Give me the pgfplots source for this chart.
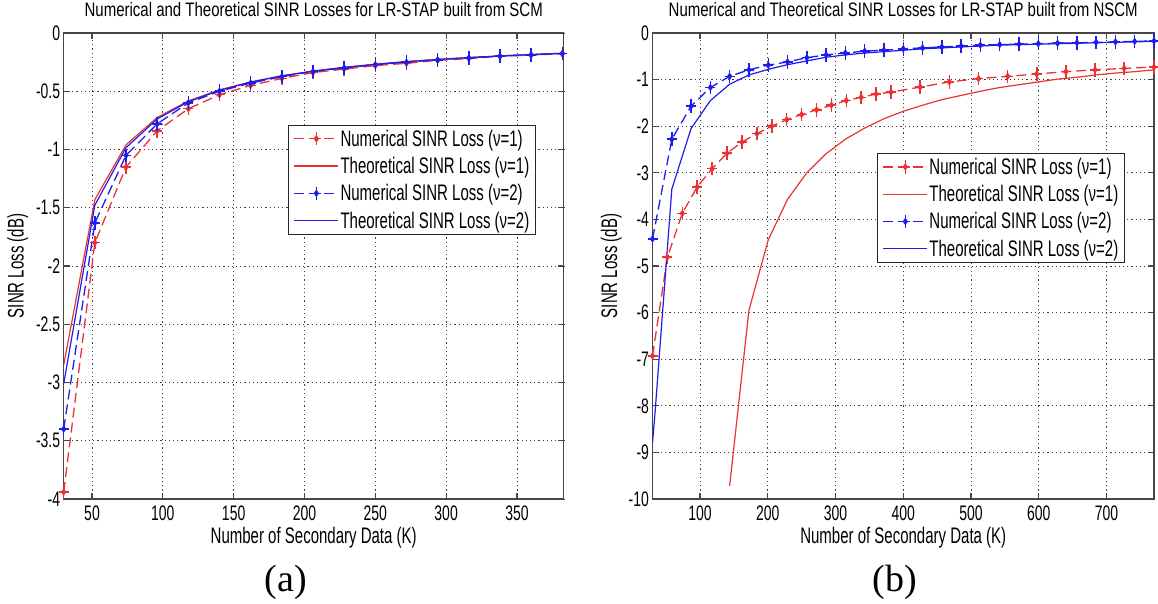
\documentclass[border=0pt]{standalone}
\usepackage{graphicx}
\usepackage{fontspec}
\setmainfont{Liberation Sans}
\newfontfamily\serif{Liberation Serif}
\usepackage{pgfplots}
\pgfplotsset{compat=1.18}
\definecolor{mred}{RGB}{235,50,50}
\definecolor{mblue}{RGB}{30,30,235}
\definecolor{axgray}{RGB}{70,70,70}
\newcommand{\st}[1]{\scalebox{1}[1.5]{#1}}
\newcommand{\stt}[1]{\scalebox{1}[1.3]{#1}}

\pgfdeclareplotmark{sp}{%
  \pgfpathmoveto{\pgfqpoint{0pt}{1.35\pgfplotmarksize}}%
  \pgfpathlineto{\pgfqpoint{0pt}{-1.35\pgfplotmarksize}}%
  \pgfpathmoveto{\pgfqpoint{-\pgfplotmarksize}{0pt}}%
  \pgfpathlineto{\pgfqpoint{\pgfplotmarksize}{0pt}}%
  \pgfusepathqstroke
  \pgfpathmoveto{\pgfqpoint{0pt}{0.5\pgfplotmarksize}}%
  \pgfpathlineto{\pgfqpoint{0.35\pgfplotmarksize}{0pt}}%
  \pgfpathlineto{\pgfqpoint{0pt}{-0.5\pgfplotmarksize}}%
  \pgfpathlineto{\pgfqpoint{-0.35\pgfplotmarksize}{0pt}}%
  \pgfpathclose
  \pgfusepathqfillstroke
}

\pgfplotsset{
  mstyle/.style={
    scale only axis,
    height=466pt,
    axis line style={axgray, line width=1.4pt},
    tick style={axgray, line width=1.2pt},
    major tick length=6pt,
    tick align=inside,
    tick pos=both,
    grid=major,
    major grid style={black!75, line width=0.8pt, dash pattern=on 1.2pt off 3pt},
    font=\fontsize{14}{16}\selectfont,
    xticklabel style={anchor=center, yshift=-14pt},
    title style={at={(axis description cs:0.5,1)}, anchor=center, yshift=17pt, font=\fontsize{15}{17}\selectfont},
    xlabel style={at={(axis description cs:0.5,0)}, anchor=center, yshift=-39pt, font=\fontsize{15}{17}\selectfont},
    ylabel style={font=\fontsize{15}{17}\selectfont},
    legend cell align=left,
    legend style={draw=black!85, line width=1pt, fill=white, inner xsep=5pt, inner ysep=3pt,
      row sep=6.5pt, nodes={inner sep=1.5pt}, font=\fontsize{15}{17}\selectfont},
    legend image code/.code={\draw[mark repeat=2,mark phase=2,##1] plot coordinates {(0pt,0pt) (22pt,0pt) (44pt,0pt)};},
    numl/.style={dash pattern=on 10pt off 5pt, line width=1.3pt, mark=sp, mark size=5pt,
      mark options={solid, line width=1.5pt}},
    theol/.style={solid, line width=1.2pt},
  }
}

\begin{document}
\begin{tikzpicture}
\path[use as bounding box] (0,0) rectangle (1158pt,604pt);

% ---------------- (a) ----------------
\begin{axis}[mstyle,
  at={(63.7pt,105pt)}, anchor=south west,
  width=500pt,
  xmin=30, xmax=383, ymin=-4, ymax=0,
  xtick={50,100,...,350},
  xticklabels={\st{50},\st{100},\st{150},\st{200},\st{250},\st{300},\st{350}},
  ytick={-4,-3.5,...,0},
  yticklabels={\st{-4},\st{-3.5},\st{-3},\st{-2.5},\st{-2},\st{-1.5},\st{-1},\st{-0.5},\st{0}},
  title={\stt{Numerical and Theoretical SINR Losses for LR-STAP built from SCM}},
  xlabel={\st{Number of Secondary Data (K)}},
  ylabel={\st{SINR Loss (dB)}},
  ylabel style={at={(axis description cs:-0.092,0.5)}, anchor=center},
  legend style={at={(0.449,0.803)}, anchor=north west},
]
\addplot[mred, numl] coordinates {
(30,-3.94) (52,-1.80) (74,-1.15) (96,-0.84) (118,-0.65) (140,-0.53) (162,-0.45) (184,-0.39)
(206,-0.34) (228,-0.31) (250,-0.28) (272,-0.26) (294,-0.235) (316,-0.22) (338,-0.20) (360,-0.19) (382,-0.178)};
\addlegendentry{\st{Numerical SINR Loss (ν=1)}}
\addplot[mred, theol] coordinates {
(30,-2.85) (52,-1.43) (74,-0.96) (96,-0.725) (118,-0.583) (140,-0.488) (162,-0.42) (184,-0.367)
(206,-0.327) (228,-0.295) (250,-0.268) (272,-0.246) (294,-0.227) (316,-0.211) (338,-0.197) (360,-0.185) (382,-0.174)};
\addlegendentry{\st{Theoretical SINR Loss (ν=1)}}
\addplot[mblue, numl] coordinates {
(30,-3.40) (52,-1.63) (74,-1.05) (96,-0.78) (118,-0.60) (140,-0.50) (162,-0.43) (184,-0.375)
(206,-0.33) (228,-0.30) (250,-0.272) (272,-0.25) (294,-0.23) (316,-0.213) (338,-0.199) (360,-0.187) (382,-0.176)};
\addlegendentry{\st{Numerical SINR Loss (ν=2)}}
\addplot[mblue, theol] coordinates {
(30,-3.01) (52,-1.478) (74,-0.984) (96,-0.738) (118,-0.590) (140,-0.492) (162,-0.422) (184,-0.369)
(206,-0.328) (228,-0.296) (250,-0.269) (272,-0.246) (294,-0.227) (316,-0.211) (338,-0.197) (360,-0.185) (382,-0.174)};
\addlegendentry{\st{Theoretical SINR Loss (ν=2)}}
\end{axis}

% ---------------- (b) ----------------
\begin{axis}[mstyle,
  at={(652.5pt,105pt)}, anchor=south west,
  width=501.5pt,
  xmin=30, xmax=770, ymin=-10, ymax=0,
  xtick={100,200,...,700},
  xticklabels={\st{100},\st{200},\st{300},\st{400},\st{500},\st{600},\st{700}},
  ytick={-10,-9,...,0},
  yticklabels={\st{-10},\st{-9},\st{-8},\st{-7},\st{-6},\st{-5},\st{-4},\st{-3},\st{-2},\st{-1},\st{0}},
  title={\stt{Numerical and Theoretical SINR Losses for LR-STAP built from NSCM}},
  xlabel={\st{Number of Secondary Data (K)}},
  ylabel={\st{SINR Loss (dB)}},
  ylabel style={at={(axis description cs:-0.082,0.5)}, anchor=center},
  legend style={at={(0.448,0.7425)}, anchor=north west},
]
\addplot[mred, numl] coordinates {
(30,-6.93) (52,-4.81) (74,-3.87) (96,-3.30) (118,-2.91) (140,-2.58) (162,-2.34) (184,-2.16)
(206,-2.00) (228,-1.86) (250,-1.75) (272,-1.65) (294,-1.55) (316,-1.45) (338,-1.38) (360,-1.31)
(382,-1.27) (425,-1.16) (468,-1.05) (511,-0.98) (554,-0.93) (597,-0.88) (640,-0.83) (683,-0.79)
(726,-0.76) (770,-0.73)};
\addlegendentry{\st{Numerical SINR Loss (ν=1)}}
\addplot[mred, theol] coordinates {
(143.8,-9.72) (172.3,-5.95) (200.8,-4.44) (229.2,-3.57) (257.7,-3.00) (286.2,-2.59) (314.6,-2.28)
(343.1,-2.04) (371.5,-1.84) (400,-1.68) (428.5,-1.55) (456.9,-1.43) (485.4,-1.34) (513.8,-1.25)
(542.3,-1.17) (570.8,-1.11) (599.2,-1.05) (627.7,-0.99) (656.2,-0.95) (684.6,-0.90) (713.1,-0.86)
(741.5,-0.83) (770,-0.79)};
\addlegendentry{\st{Theoretical SINR Loss (ν=1)}}
\addplot[mblue, numl] coordinates {
(30,-4.42) (58.5,-2.28) (86.9,-1.57) (115.4,-1.17) (143.8,-0.93) (172.3,-0.79) (200.8,-0.69)
(229.2,-0.62) (257.7,-0.53) (286.2,-0.47) (314.6,-0.43) (343.1,-0.39) (371.5,-0.37) (400,-0.34)
(428.5,-0.32) (456.9,-0.30) (485.4,-0.28) (513.8,-0.26) (542.3,-0.25) (570.8,-0.24) (599.2,-0.23)
(627.7,-0.22) (656.2,-0.21) (684.6,-0.20) (713.1,-0.19) (741.5,-0.18) (770,-0.17)};
\addlegendentry{\st{Numerical SINR Loss (ν=2)}}
\addplot[mblue, theol] coordinates {
(30,-8.8) (34,-8.1) (58.5,-3.35) (86.9,-2.05) (115.4,-1.45) (143.8,-1.10) (172.3,-0.90)
(200.8,-0.78) (229.2,-0.68) (257.7,-0.60) (286.2,-0.52) (314.6,-0.47) (343.1,-0.43) (371.5,-0.40)
(400,-0.37) (428.5,-0.34) (456.9,-0.32) (485.4,-0.30) (513.8,-0.28) (542.3,-0.26) (570.8,-0.25)
(599.2,-0.24) (627.7,-0.23) (656.2,-0.22) (684.6,-0.21) (713.1,-0.20) (741.5,-0.19) (770,-0.18)};
\addlegendentry{\st{Theoretical SINR Loss (ν=2)}}
\end{axis}

\node[font=\serif\fontsize{38}{40}\selectfont] at (286pt,22pt) {(a)};
\node[font=\serif\fontsize{38}{40}\selectfont] at (895pt,22pt) {(b)};
\end{tikzpicture}
\end{document}
